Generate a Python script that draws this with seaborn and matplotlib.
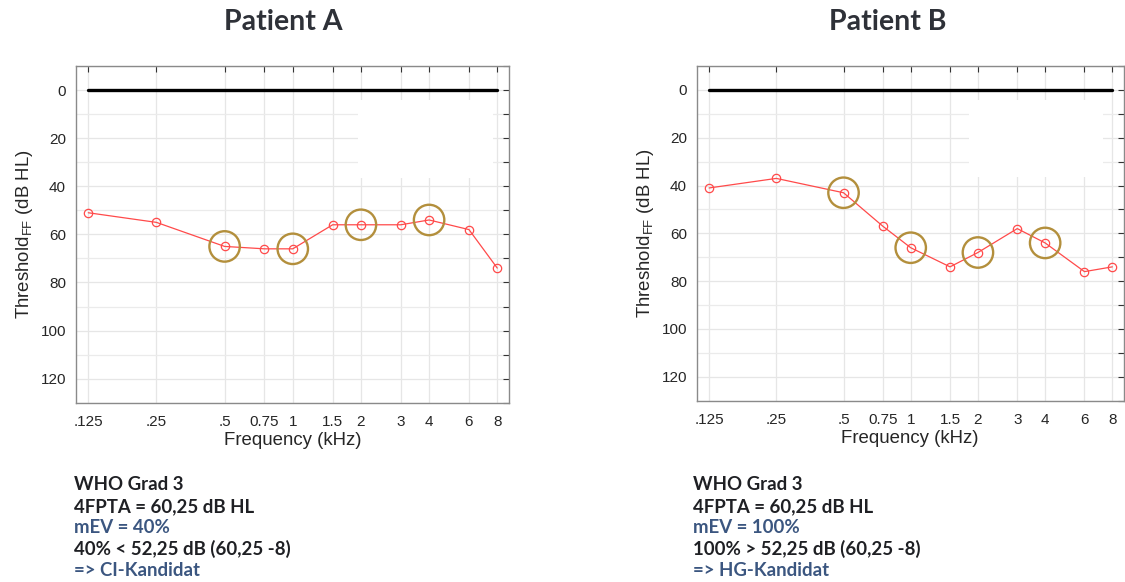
import matplotlib
matplotlib.use("Agg")
import matplotlib.pyplot as plt
import seaborn as sns
import numpy as np
from matplotlib.patches import Rectangle
from matplotlib.ticker import FixedLocator, MultipleLocator, NullLocator

# ----------------------------
# data
# ----------------------------
freqs = [0.125, 0.25, 0.5, 0.75, 1, 1.5, 2, 3, 4, 6, 8]
freq_labels = ['.125', '.25', '.5', '0.75', '1', '1.5', '2', '3', '4', '6', '8']
thr_a = [51, 55, 65, 66, 66, 56, 56, 56, 54, 58, 74]
thr_b = [41, 37, 43, 57, 66, 74, 68, 58, 64, 76, 74]
pta_freqs = [0.5, 1, 2, 4]   # 4FPTA frequencies (circled)

titles = ['Patient A', 'Patient B']
notes_a = [('WHO Grad 3', 'k'), ('4FPTA = 60,25 dB HL', 'k'), ('mEV = 40%', 'b'),
           ('40% < 52,25 dB (60,25 -8)', 'k'), ('=> CI-Kandidat', 'b')]
notes_b = [('WHO Grad 3', 'k'), ('4FPTA = 60,25 dB HL', 'k'), ('mEV = 100%', 'b'),
           ('100% > 52,25 dB (60,25 -8)', 'k'), ('=> HG-Kandidat', 'b')]

sns.set_style("whitegrid")
plt.rcParams['font.family'] = ['Liberation Sans', 'DejaVu Sans']
plt.rcParams['mathtext.fontset'] = 'custom'
plt.rcParams['mathtext.rm'] = 'Liberation Sans'

RED = '#ff4a4a'
GOLD = '#b38f3c'
SPINE = '#8a8a8a'
TXT = '#262626'
BLUE = '#3b5680'
DARK = '#1f2024'

fig = plt.figure(figsize=(11.25, 5.82), dpi=100)
ax_a = fig.add_axes([0.0673, 0.308, 0.385, 0.5785])
ax_b = fig.add_axes([0.6193, 0.3115, 0.3796, 0.575])


def audiogram(ax, vals, box_x):
    ax.set_xscale('log')
    ax.set_xlim(0.11, 9)
    ax.set_ylim(130, -10)

    # grid
    ax.xaxis.set_major_locator(FixedLocator(freqs))
    ax.xaxis.set_minor_locator(NullLocator())
    ax.set_xticklabels(freq_labels)
    ax.yaxis.set_major_locator(FixedLocator([0, 20, 40, 60, 80, 100, 120]))
    ax.yaxis.set_minor_locator(MultipleLocator(10))
    ax.grid(True, which='major', color='#e6e6e6', linewidth=0.9)
    ax.grid(True, which='minor', axis='y', color='#ebebeb', linewidth=0.9)
    ax.set_axisbelow(True)

    # white patch that hides part of the grid
    ax.add_patch(Rectangle((box_x[0], 0.667), box_x[1] - box_x[0], 0.232,
                           transform=ax.transAxes, facecolor='white',
                           edgecolor='none', zorder=1.5))

    # 0 dB reference line
    sns.lineplot(x=[freqs[0], freqs[-1]], y=[0, 0], ax=ax, color='black',
                 linewidth=2.4, zorder=3)

    # threshold curve
    sns.lineplot(x=freqs, y=vals, ax=ax, color=RED, linewidth=0.9,
                 marker='o', markersize=6, markerfacecolor='none',
                 markeredgecolor=RED, markeredgewidth=0.9, zorder=4)

    # circles on the 4FPTA frequencies
    sel = [vals[freqs.index(f)] for f in pta_freqs]
    sns.scatterplot(x=pta_freqs, y=sel, ax=ax, marker='o', s=480,
                    facecolors='none', edgecolor=GOLD, linewidth=1.7, zorder=5)

    ax.tick_params(which='both', direction='in', top=True, right=True,
                   color='#333333', labelsize=11, labelcolor=TXT)
    ax.tick_params(which='major', length=4, width=0.8)
    ax.tick_params(axis='x', pad=9)
    ax.tick_params(axis='y', pad=7)
    ax.tick_params(which='minor', length=4, width=0.8)
    for s in ax.spines.values():
        s.set_color(SPINE)
        s.set_linewidth(1.0)

    ax.set_xlabel('Frequency (kHz)', fontsize=13.4, color=TXT, labelpad=2)
    ax.set_ylabel(r'Threshold$_{\mathregular{FF}}$ (dB HL)', fontsize=13.4,
                  color=TXT, labelpad=4)


audiogram(ax_a, thr_a, (0.652, 0.963))
audiogram(ax_b, thr_b, (0.638, 0.951))

# titles
fig.text(283 / 1125, 1 - 22 / 582, titles[0], ha='center', va='center',
         fontsize=20.5, fontweight='bold', color='#2e3138', family=['Lato', 'DejaVu Sans'])
fig.text(888 / 1125, 1 - 22 / 582, titles[1], ha='center', va='center',
         fontsize=20.5, fontweight='bold', color='#2e3138', family=['Lato', 'DejaVu Sans'])

# notes below each chart
for notes, x0 in [(notes_a, 74), (notes_b, 693)]:
    for i, (txt, c) in enumerate(notes):
        fig.text(x0 / 1125, 1 - (485 + i * 21.3) / 582, txt, ha='left', va='center',
                 fontsize=13.4, fontweight='bold', family=['Lato', 'DejaVu Sans'],
                 color=DARK if c == 'k' else BLUE)

fig.savefig('out.png', dpi=100)
